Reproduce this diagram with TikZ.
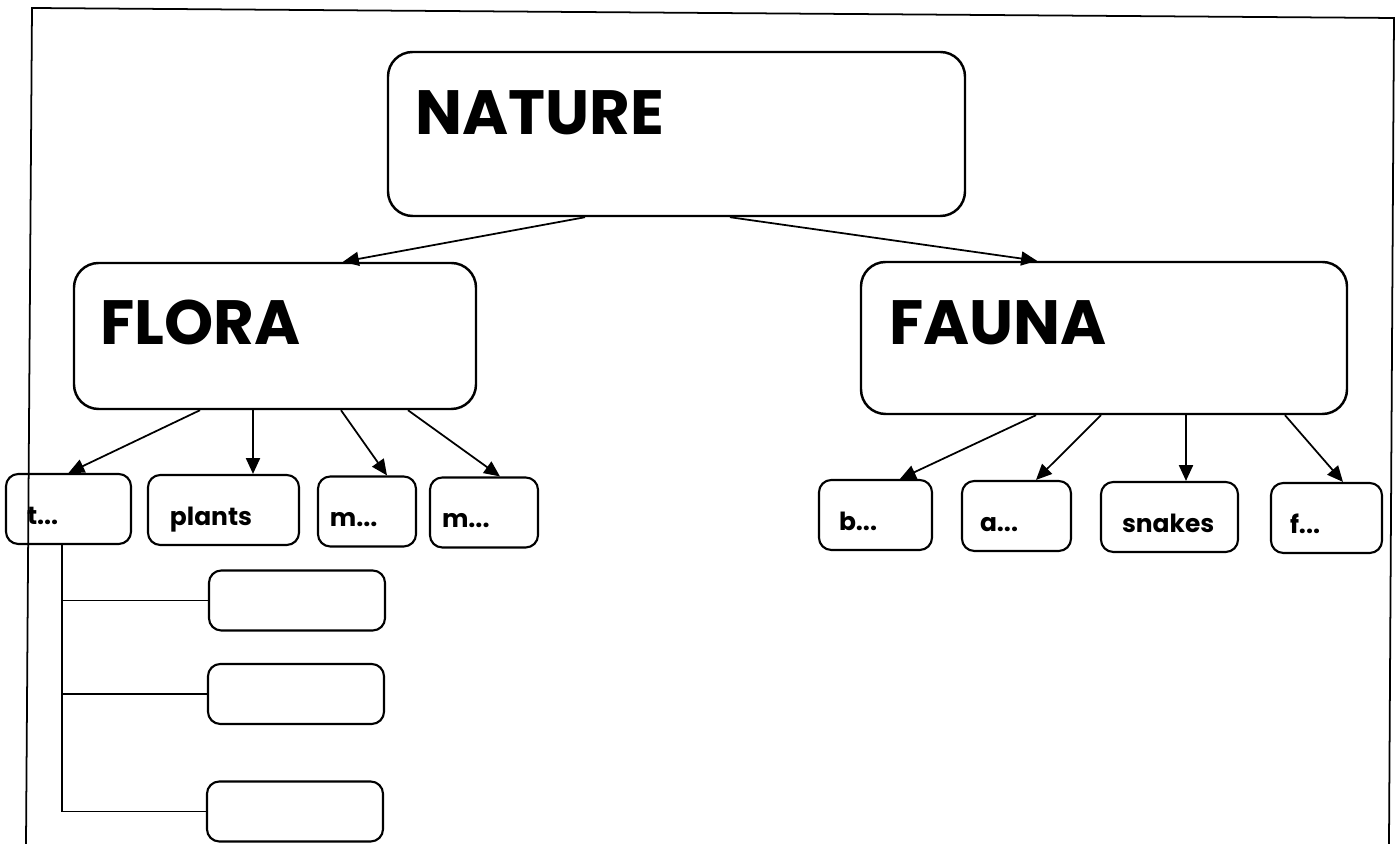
\documentclass[tikz,border=0pt]{standalone}
\usepackage{fontspec}
\setmainfont{Poppins}
\usepackage{tikz}
\usetikzlibrary{shapes,arrows.meta,positioning}

\begin{document}
\begin{tikzpicture}[
  mainbox/.style={rectangle, draw, line width=0.7pt, rounded corners=7pt, inner sep=0pt},
  title/.style={anchor=north west, inner sep=0pt, font=\fontsize{17.8}{18}\selectfont\bfseries},
  leaf/.style={rectangle, draw, line width=0.6pt, rounded corners=3.5pt, align=left, minimum height=0.7cm, text height=1.9ex, text depth=0.3ex, font=\fontsize{7.1}{8}\selectfont\bfseries},
  blank/.style={rectangle, draw, line width=0.6pt, rounded corners=3.5pt, minimum width=1.76cm, minimum height=0.6cm},
  arrow/.style={line width=0.5pt,-{Triangle[length=4.5pt,width=4pt]}}]

  \useasboundingbox (0,0) rectangle (13.96,-8.44);
  % page frame
  \draw[line width=0.5pt] (0.26,-8.44) -- (0.32,-0.08) -- (13.94,-0.18) -- (13.89,-8.44);

  \node [mainbox, minimum width=5.77cm, minimum height=1.64cm] (nature) at (6.765,-1.34) {};
  \node [mainbox, minimum width=4.02cm, minimum height=1.46cm] (flora) at (2.75,-3.36) {};
  \node [mainbox, minimum width=4.86cm, minimum height=1.52cm] (fauna) at (11.04,-3.38) {};
  \node [title] (naturetxt) at ([xshift=0.28cm, yshift=-0.39cm]nature.north west) {NATURE};
  \node [title] (floratxt) at ([xshift=0.27cm, yshift=-0.37cm]flora.north west) {FLORA};
  \node [title] (faunatxt) at ([xshift=0.29cm, yshift=-0.39cm]fauna.north west) {FAUNA};

  % flora leaves
  \node [leaf, inner xsep=0.21cm, text width=0.83cm] (tbox) at (0.685,-5.09) {t...};
  \node [leaf, inner xsep=0.22cm, text width=1.07cm] (plants) at (2.235,-5.10) {plants};
  \node [leaf, inner xsep=0.12cm, text width=0.74cm] (mone) at (3.67,-5.115) {m...};
  \node [leaf, inner xsep=0.12cm, text width=0.84cm] (mtwo) at (4.84,-5.125) {m...};
  \node [blank] (subone) at (2.97,-6.005) {};
  \node [blank] (subtwo) at (2.96,-6.94) {};
  \node [blank] (subthree) at (2.95,-8.115) {};

  % fauna leaves
  \node [leaf, inner xsep=0.20cm, text width=0.73cm] (bbox) at (8.755,-5.15) {b...};
  \node [leaf, inner xsep=0.18cm, text width=0.73cm] (abox) at (10.165,-5.16) {a...};
  \node [leaf, inner xsep=0.21cm, text width=0.95cm] (snakes) at (11.695,-5.17) {snakes};
  \node [leaf, inner xsep=0.19cm, text width=0.73cm] (fbox) at (13.265,-5.18) {f...};

  \draw [arrow] ([xshift=-0.915cm]nature.south) -- ([xshift=0.68cm]flora.north);
  \draw [arrow] ([xshift=0.535cm]nature.south) -- ([xshift=-0.67cm]fauna.north);

  \draw [arrow] ([xshift=-0.75cm]flora.south) -- (tbox.north);
  \draw [arrow] ([xshift=-0.22cm]flora.south) -- ([xshift=0.295cm]plants.north);
  \draw [arrow] ([xshift=0.66cm]flora.south) -- ([xshift=0.2cm]mone.north);
  \draw [arrow] ([xshift=1.33cm]flora.south) -- ([xshift=0.16cm]mtwo.north);

  \draw [arrow] ([xshift=-0.68cm]fauna.south) -- ([xshift=0.245cm]bbox.north);
  \draw [arrow] ([xshift=-0.03cm]fauna.south) -- ([xshift=0.195cm]abox.north);
  \draw [arrow] ([xshift=0.82cm]fauna.south) -- ([xshift=0.165cm]snakes.north);
  \draw [arrow] ([xshift=1.81cm]fauna.south) -- ([xshift=0.165cm]fbox.north);

  \coordinate (trunk) at ([xshift=-0.065cm]tbox.south);
  \draw [line width=0.5pt] (trunk) |- (subone.west);
  \draw [line width=0.5pt] (trunk) |- (subtwo.west);
  \draw [line width=0.5pt] (trunk) |- (subthree.west);
\end{tikzpicture}
\end{document}
